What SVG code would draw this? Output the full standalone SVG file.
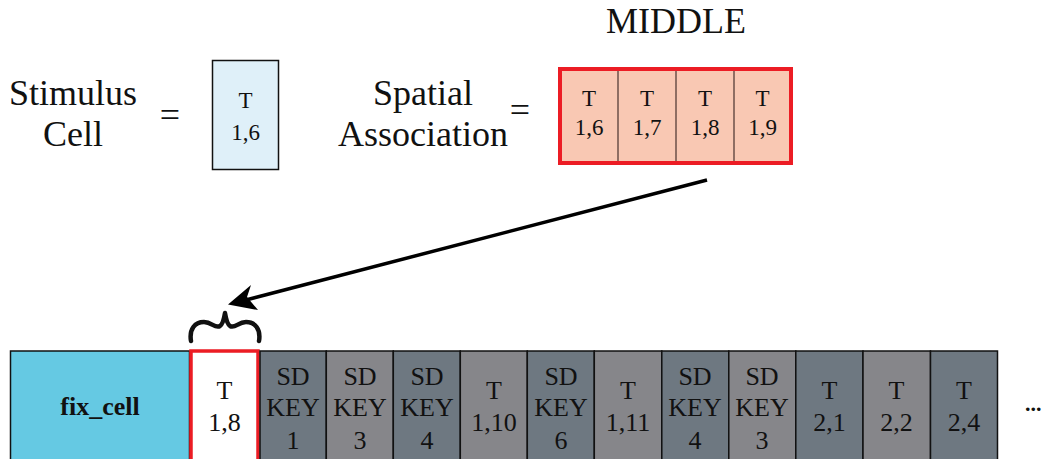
<svg xmlns="http://www.w3.org/2000/svg" width="1042" height="459" viewBox="0 0 1042 459">
<style>
.t{font-family:"Liberation Serif","Times New Roman",serif;fill:#111;text-anchor:middle}
.big{font-size:36px}
.sm{font-size:23px}
.md{font-size:26px}
.dk{fill:#6e7881;stroke:#111;stroke-width:1.5}
.lt{fill:#86868a;stroke:#111;stroke-width:1.5}
</style>
<rect width="1042" height="459" fill="#fff"/>

<g id="labels">
<text class="t big" x="73" y="105">Stimulus</text>
<text class="t big" x="73" y="146">Cell</text>
<text class="t big" x="170" y="127">=</text>
<text class="t big" x="423" y="105">Spatial</text>
<text class="t big" x="423" y="146">Association</text>
<text class="t big" x="520" y="122">=</text>
<text class="t big" x="676" y="33">MIDDLE</text>
</g>

<g id="stimulus-cell">
<rect x="212.5" y="60.5" width="66" height="109" fill="#dff0f9" stroke="#111" stroke-width="1.5"/>
<text class="t sm" x="245.5" y="108">T</text>
<text class="t sm" x="245.5" y="140">1,6</text>
</g>

<g id="spatial-association">
<rect x="560" y="69" width="231" height="94" fill="#f9c8b3"/>
<g stroke="#6b5048" stroke-width="1.5">
<line x1="618" y1="69" x2="618" y2="163"/>
<line x1="676" y1="69" x2="676" y2="163"/>
<line x1="734" y1="69" x2="734" y2="163"/>
</g>
<rect x="560" y="69" width="231" height="94" fill="none" stroke="#ec1c24" stroke-width="4"/>
<text class="t sm" x="589" y="106">T</text><text class="t sm" x="589" y="135">1,6</text>
<text class="t sm" x="647" y="106">T</text><text class="t sm" x="647" y="135">1,7</text>
<text class="t sm" x="705" y="106">T</text><text class="t sm" x="705" y="135">1,8</text>
<text class="t sm" x="762.5" y="106">T</text><text class="t sm" x="762.5" y="135">1,9</text>
</g>

<g id="connectors">
<line x1="707" y1="180" x2="240" y2="301.5" stroke="#000" stroke-width="3.5"/>
<path d="M228,304.5 L251,285 L247,297 L258,310 Z" fill="#000"/>
<path d="M191,341 C189,329 195,322 204,322 C212,322 215,329 220,326 C223,324 224,319 225,313 C226,319 227,324 230,326 C235,329 238,322 246,322 C255,322 261,329 259,341" fill="none" stroke="#111" stroke-width="4.5" stroke-linecap="round" stroke-linejoin="round"/>
</g>

<g id="fix-cell">
<rect x="10.5" y="351" width="179" height="115" fill="#65c9e3" stroke="#111" stroke-width="1.5"/>
<text class="t md" x="100" y="415" font-weight="bold">fix_cell</text>
</g>

<g id="cell-t18">
<rect x="191" y="351" width="67" height="115" fill="#fff" stroke="#ec1c24" stroke-width="3.5"/>
<text class="t md" x="224.5" y="399">T</text>
<text class="t md" x="224.5" y="431">1,8</text>
</g>

<g id="cell-sdkey1">
<rect x="260" y="351" width="66.3" height="115" class="dk"/>
<text class="t md" x="293" y="385">SD</text><text class="t md" x="293" y="416">KEY</text><text class="t md" x="293" y="449">1</text>
</g>
<g id="cell-sdkey3a">
<rect x="326.3" y="351" width="67" height="115" class="lt"/>
<text class="t md" x="360" y="385">SD</text><text class="t md" x="360" y="416">KEY</text><text class="t md" x="360" y="449">3</text>
</g>
<g id="cell-sdkey4a">
<rect x="393.3" y="351" width="67" height="115" class="dk"/>
<text class="t md" x="427" y="385">SD</text><text class="t md" x="427" y="416">KEY</text><text class="t md" x="427" y="449">4</text>
</g>
<g id="cell-t110">
<rect x="460.3" y="351" width="67" height="115" class="lt"/>
<text class="t md" x="494" y="399">T</text><text class="t md" x="494" y="431">1,10</text>
</g>
<g id="cell-sdkey6">
<rect x="527.3" y="351" width="67" height="115" class="dk"/>
<text class="t md" x="561" y="385">SD</text><text class="t md" x="561" y="416">KEY</text><text class="t md" x="561" y="449">6</text>
</g>
<g id="cell-t111">
<rect x="594.3" y="351" width="67.5" height="115" class="lt"/>
<text class="t md" x="628" y="399">T</text><text class="t md" x="628" y="431">1,11</text>
</g>
<g id="cell-sdkey4b">
<rect x="661.8" y="351" width="67" height="115" class="dk"/>
<text class="t md" x="695" y="385">SD</text><text class="t md" x="695" y="416">KEY</text><text class="t md" x="695" y="449">4</text>
</g>
<g id="cell-sdkey3b">
<rect x="728.8" y="351" width="67" height="115" class="lt"/>
<text class="t md" x="762" y="385">SD</text><text class="t md" x="762" y="416">KEY</text><text class="t md" x="762" y="449">3</text>
</g>
<g id="cell-t21">
<rect x="795.8" y="351" width="67.2" height="115" class="dk"/>
<text class="t md" x="829.5" y="399">T</text><text class="t md" x="829.5" y="431">2,1</text>
</g>
<g id="cell-t22">
<rect x="863" y="351" width="67.5" height="115" class="lt"/>
<text class="t md" x="896.5" y="399">T</text><text class="t md" x="896.5" y="431">2,2</text>
</g>
<g id="cell-t24">
<rect x="930.5" y="351" width="67" height="115" class="dk"/>
<text class="t md" x="964" y="399">T</text><text class="t md" x="964" y="431">2,4</text>
</g>
<g id="ellipsis">
<text x="1025" y="411" font-family="Liberation Serif, serif" font-size="22" font-weight="bold" fill="#111">...</text>
</g>
</svg>
